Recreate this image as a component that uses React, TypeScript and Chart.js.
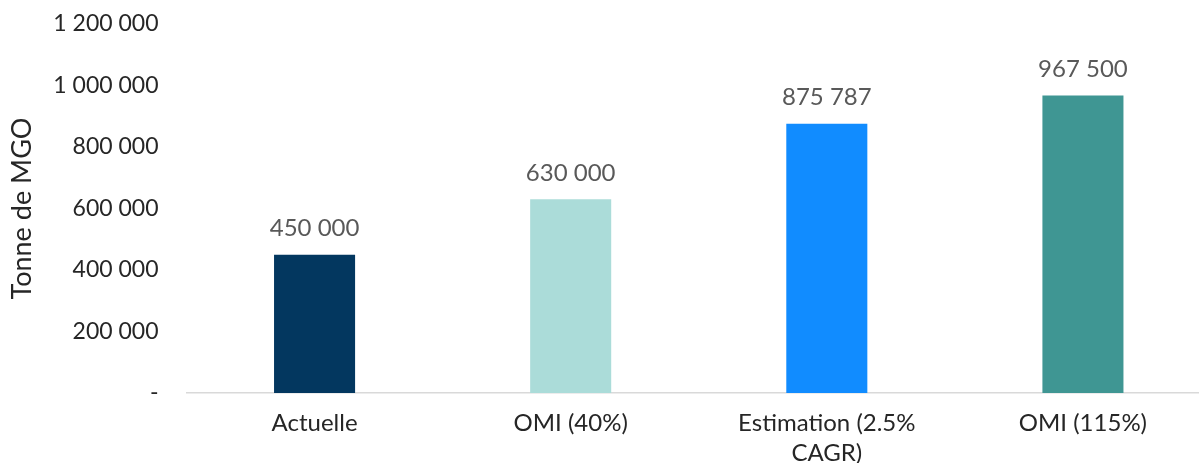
import React, { useEffect, useRef } from "react";
import { Chart, registerables } from "chart.js";

Chart.register(...registerables);

const categories: (string | string[])[] = ["Actuelle", "OMI (40%)", ["Estimation (2.5%", "CAGR)"], "OMI (115%)"];
const values = [450000, 630000, 875787, 967500];
const barColors = ["#03375F", "#ABDCD9", "#118CFF", "#3F9693"];
const yMax = 1200000;
const yStep = 200000;
const yTitle = "Tonne de MGO";

const fmt = (v: number) => (v === 0 ? "-" : Math.round(v).toString().replace(/\B(?=(\d{3})+(?!\d))/g, " "));

const FONT = "Lato, 'Open Sans', sans-serif";

const dataLabelPlugin = {
  id: "dataLabels",
  afterDatasetsDraw(chart: any) {
    const ctx = chart.ctx;
    const meta = chart.getDatasetMeta(0);
    ctx.save();
    ctx.font = `24px ${FONT}`;
    ctx.fillStyle = "#595959";
    ctx.textAlign = "center";
    ctx.textBaseline = "middle";
    meta.data.forEach((bar: any, i: number) => {
      ctx.fillText(fmt(values[i]), bar.x, bar.y - 26);
    });
    ctx.restore();
  },
};

export default function App() {
  const ref = useRef<HTMLCanvasElement | null>(null);
  useEffect(() => {
    if (!ref.current) return;
    const chart = new Chart(ref.current, {
      type: "bar",
      data: {
        labels: categories as any,
        datasets: [
          {
            data: values,
            backgroundColor: barColors,
            barPercentage: 1,
            categoryPercentage: 81 / 256,
          },
        ],
      },
      options: {
        animation: false,
        responsive: true,
        maintainAspectRatio: false,
        layout: { padding: { top: 24, right: 0, bottom: 0, left: 0 } },
        plugins: { legend: { display: false }, tooltip: { enabled: false } },
        scales: {
          x: {
            grid: { display: false, drawTicks: false },
            border: { display: true, color: "#D9D9D9", width: 1.5 },
            ticks: {
              color: "#262626",
              font: { family: FONT, size: 24, lineHeight: 1.25 },
              padding: 15,
              maxRotation: 0,
              autoSkip: false,
            },
            afterFit: (s: any) => {
              s.height = 70;
            },
          },
          y: {
            min: 0,
            max: yMax,
            grid: { display: false, drawTicks: true, tickLength: 28 },
            border: { display: false },
            ticks: {
              stepSize: yStep,
              color: "#262626",
              font: { family: FONT, size: 23 },
              padding: 0,
              callback: (v: any) => fmt(Number(v)),
            },
            title: {
              display: true,
              text: yTitle,
              color: "#262626",
              font: { family: FONT, size: 27, lineHeight: 1.2 },
              padding: { top: 6, bottom: 0 },
            },
            afterFit: (s: any) => {
              s.width = 186.5;
            },
          },
        },
      },
      plugins: [dataLabelPlugin],
    });
    return () => chart.destroy();
  }, []);
  return (
    <div style={{ position: "absolute", left: 0, top: 0, width: 1199, height: 463, overflow: "hidden", background: "#fff" }}>
      <div style={{ position: "relative", width: 1211, height: 463 }}>
        <canvas ref={ref} />
      </div>
    </div>
  );
}
